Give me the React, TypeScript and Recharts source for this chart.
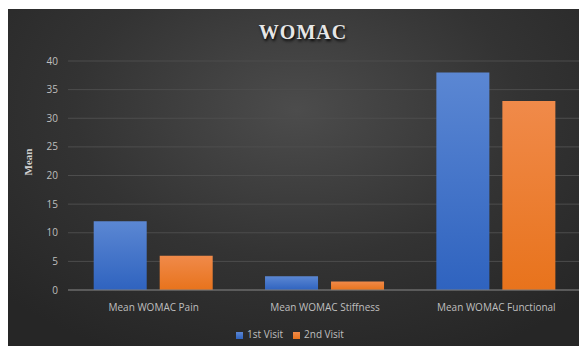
import { BarChart, Bar, XAxis, YAxis, CartesianGrid, Legend } from "recharts";

const categories = ["Mean WOMAC Pain", "Mean WOMAC Stiffness", "Mean WOMAC Functional"];
const firstVisit = [12, 2.4, 38];
const secondVisit = [6, 1.5, 33];
const yTicks = [0, 5, 10, 15, 20, 25, 30, 35, 40];

const data = categories.map((name, i) => ({
  name,
  first: firstVisit[i],
  second: secondVisit[i],
}));

const tickStyle = { fill: "#bfbfbf", fontSize: 10, fontFamily: "'Open Sans', sans-serif" };

function App() {
  return (
    <div
      style={{
        position: "relative",
        width: 578,
        height: 337,
        marginTop: 1,
        background: "radial-gradient(ellipse 70% 80% at 50% 30%, #4c4c4c 0%, #333333 55%, #262626 100%)",
      }}
    >
      <div
        style={{
          position: "absolute",
          top: 12,
          left: 0,
          width: 590,
          textAlign: "center",
          fontFamily: "'Liberation Serif', serif",
          fontWeight: "bold",
          fontSize: 20,
          letterSpacing: 1,
          color: "#e6e6e6",
          textShadow: "1px 2px 3px #000",
        }}
      >
        WOMAC
      </div>
      <BarChart
        width={578}
        height={337}
        data={data}
        margin={{ top: 52, right: 4, left: 0, bottom: 12 }}
        barCategoryGap="15%"
        barGap={13}
      >
        <defs>
          <linearGradient id="blueGrad" x1="0" y1="0" x2="0" y2="1">
            <stop offset="0%" stopColor="#5b87d3" />
            <stop offset="100%" stopColor="#2f63bf" />
          </linearGradient>
          <linearGradient id="orangeGrad" x1="0" y1="0" x2="0" y2="1">
            <stop offset="0%" stopColor="#f08a4a" />
            <stop offset="100%" stopColor="#e8731c" />
          </linearGradient>
        </defs>
        <CartesianGrid vertical={false} stroke="#4d4d4d" />
        <XAxis
          dataKey="name"
          height={30}
          tick={tickStyle}
          tickLine={false}
          axisLine={{ stroke: "#7a7a7a" }}
          tickMargin={8}
        />
        <YAxis
          width={60}
          domain={[0, 40]}
          ticks={yTicks}
          tick={tickStyle}
          tickLine={false}
          axisLine={false}
          tickMargin={4}
          label={{
            value: "Mean",
            angle: -90,
            position: "insideLeft",
            offset: 20,
            style: { fill: "#d0d0d0", fontSize: 11, fontWeight: "bold", fontFamily: "'Liberation Serif', serif" },
          }}
        />
        <Legend
          iconType="square"
          iconSize={7}
          wrapperStyle={{ top: 318, fontSize: 10, fontFamily: "'Open Sans', sans-serif" }}
          formatter={(v) => <span style={{ color: "#bfbfbf" }}>{v}</span>}
        />
        <Bar dataKey="first" name="1st Visit" fill="url(#blueGrad)" legendType="square" isAnimationActive={false} />
        <Bar dataKey="second" name="2nd Visit" fill="url(#orangeGrad)" legendType="square" isAnimationActive={false} />
      </BarChart>
    </div>
  );
}

export default App;
